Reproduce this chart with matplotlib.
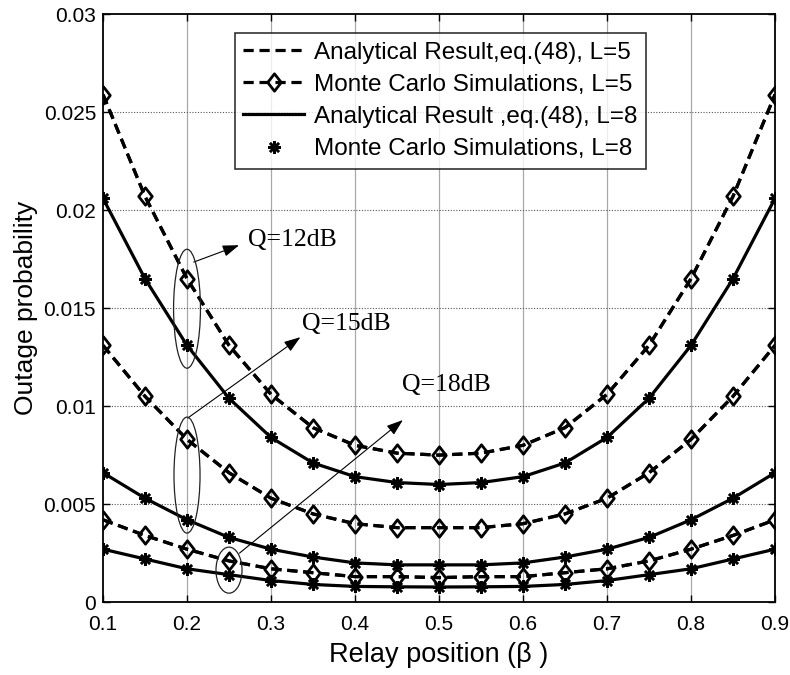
import matplotlib
matplotlib.use("Agg")
import matplotlib.pyplot as plt
from matplotlib.patches import Ellipse
from matplotlib.path import Path
import numpy as np

# ---- data ----
beta = [0.10, 0.15, 0.20, 0.25, 0.30, 0.35, 0.40, 0.45, 0.50,
        0.55, 0.60, 0.65, 0.70, 0.75, 0.80, 0.85, 0.90]

q12_L5 = [0.0259, 0.0207, 0.0165, 0.0131, 0.0106, 0.0089, 0.0080, 0.0076, 0.0075,
          0.0076, 0.0080, 0.0089, 0.0106, 0.0131, 0.0165, 0.0207, 0.0259]
q12_L8 = [0.0206, 0.0165, 0.0131, 0.0104, 0.0084, 0.0071, 0.0064, 0.0061, 0.0060,
          0.0061, 0.0064, 0.0071, 0.0084, 0.0104, 0.0131, 0.0165, 0.0206]
q15_L5 = [0.0131, 0.0105, 0.0083, 0.0066, 0.0053, 0.0045, 0.0040, 0.0038, 0.0038,
          0.0038, 0.0040, 0.0045, 0.0053, 0.0066, 0.0083, 0.0105, 0.0131]
q15_L8 = [0.0066, 0.0053, 0.0042, 0.0033, 0.0027, 0.0023, 0.0020, 0.0019, 0.0019,
          0.0019, 0.0020, 0.0023, 0.0027, 0.0033, 0.0042, 0.0053, 0.0066]
q18_L5 = [0.0042, 0.0034, 0.0027, 0.0021, 0.0017, 0.0015, 0.0013, 0.0013, 0.00125,
          0.0013, 0.0013, 0.0015, 0.0017, 0.0021, 0.0027, 0.0034, 0.0042]
q18_L8 = [0.0027, 0.0022, 0.0017, 0.0014, 0.0011, 0.0009, 0.0008, 0.00078, 0.00077,
          0.00078, 0.0008, 0.0009, 0.0011, 0.0014, 0.0017, 0.0022, 0.0027]

L5_sets = [q12_L5, q15_L5, q18_L5]
L8_sets = [q12_L8, q15_L8, q18_L8]

legend_labels = ["Analytical Result,eq.(48), L=5",
                 "Monte Carlo Simulations, L=5",
                 "Analytical Result ,eq.(48), L=8",
                 "Monte Carlo Simulations, L=8"]

x_ticks = [0.1, 0.2, 0.3, 0.4, 0.5, 0.6, 0.7, 0.8, 0.9]
y_ticks = [0, 0.005, 0.01, 0.015, 0.02, 0.025, 0.03]
y_tick_labels = ["0", "0.005", "0.01", "0.015", "0.02", "0.025", "0.03"]

q_labels = ["Q=12dB", "Q=15dB", "Q=18dB"]

# ---- style ----
plt.rcParams['font.family'] = ['Liberation Sans', 'DejaVu Sans']
fig = plt.figure(figsize=(7.9, 6.75), dpi=100)
ax = fig.add_axes([0.1304, 0.108, 0.8506, 0.871])

diamond = Path([(0, 1), (0.78, 0), (0, -1), (-0.78, 0), (0, 1)],
               [Path.MOVETO, Path.LINETO, Path.LINETO, Path.LINETO, Path.CLOSEPOLY])
dash = (0, (3.2, 1.8))
lw = 2.3

h = {}
for i in range(3):
    l1, = ax.plot(beta, L5_sets[i], color='k', lw=lw, ls=dash)
    l2, = ax.plot(beta, L5_sets[i], color='k', lw=lw, ls=dash, marker=diamond,
                  ms=12.5, mfc='none', mec='k', mew=2.0)
    l3, = ax.plot(beta, L8_sets[i], color='k', lw=lw, ls='-')
    l4, = ax.plot(beta, L8_sets[i], ls='none', marker=(8, 2, 0), ms=9,
                  mec='k', mew=1.8, color='k')
    if i == 0:
        h = [l1, l2, l3, l4]

ax.set_xlim(0.1, 0.9)
ax.set_ylim(0, 0.03)
ax.set_xticks(x_ticks)
ax.set_xticklabels([f"{v:g}" for v in x_ticks])
ax.set_yticks(y_ticks)
ax.set_yticklabels(y_tick_labels)
ax.tick_params(direction='in', top=True, right=True, labelsize=15, length=5,
               width=1)
ax.tick_params(axis='x', pad=9)
ax.tick_params(axis='y', pad=5)
for s in ax.spines.values():
    s.set_linewidth(1.3)

for xv in x_ticks[1:-1]:
    ax.axvline(xv, color='#a8a8a8', lw=0.9, zorder=0)
for yv in y_ticks[1:-1]:
    ax.axhline(yv, color='#555555', lw=0.8, ls=(0, (1, 1.5)), zorder=0)

ax.set_xlabel("Relay position (β )", fontsize=19.5, labelpad=6)
ax.set_ylabel("Outage probability", fontsize=19, labelpad=4)

leg = ax.legend(h, legend_labels, loc='upper left', bbox_to_anchor=(0.196, 0.968),
                borderaxespad=0, fontsize=17.5, frameon=True, fancybox=False,
                handlelength=2.5, handletextpad=0.4, labelspacing=0.42,
                borderpad=0.35, edgecolor='k')
leg.get_frame().set_linewidth(1.2)

# ---- annotations ----
ell_specs = [(0.20, 0.01497, 0.032, 0.00607),
             (0.20, 0.00648, 0.031, 0.00592),
             (0.25, 0.00163, 0.031, 0.00235)]
for cx, cy, w, hh in ell_specs:
    ax.add_patch(Ellipse((cx, cy), w, hh, fill=False, ec='#222222', lw=0.9, zorder=5))

arrow_specs = [((0.208, 0.01735), (0.262, 0.01821)),
               ((0.2008, 0.00939), (0.335, 0.01352)),
               ((0.2625, 0.0025), (0.457, 0.00929))]
text_pos = [(0.273, 0.01847), (0.337, 0.01418), (0.456, 0.01107)]
for (s, t), lab, tp in zip(arrow_specs, q_labels, text_pos):
    ax.annotate("", xy=t, xytext=s,
                arrowprops=dict(arrowstyle='-|>,head_length=1.0,head_width=0.35',
                                color='k', lw=0.8, shrinkA=0, shrinkB=0))
    ax.text(tp[0], tp[1], lab, fontsize=18.5, family=['Liberation Serif', 'DejaVu Serif'],
            ha='left', va='center')

fig.savefig("out.png", dpi=100)
